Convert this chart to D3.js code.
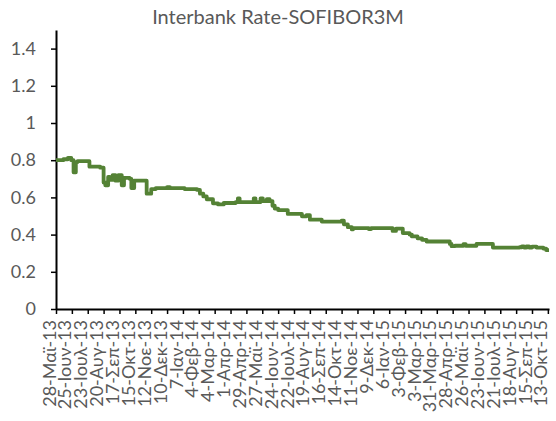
<!DOCTYPE html>
<html>
<head>
<meta charset="utf-8">
<script src="https://d3js.org/d3.v7.min.js"></script>
<style>
  body { margin: 0; background: #fff; }
  svg text { font-family: Lato, "Open Sans", sans-serif; fill: #595959; }
</style>
</head>
<body>
<div id="chart"></div>
<script>
// change points of the SOFIBOR 3M fixing (step line)
const rateDates = [
  "2013-05-28","2013-06-10","2013-06-18","2013-06-24","2013-06-28","2013-07-02","2013-07-05",
  "2013-07-26","2013-08-14","2013-08-20","2013-08-23","2013-08-28","2013-08-31","2013-09-05",
  "2013-09-10","2013-09-15","2013-09-21","2013-09-25","2013-10-05","2013-10-08","2013-10-13",
  "2013-10-20","2013-11-04","2013-11-12","2013-11-20","2013-12-10","2013-12-15","2014-01-10",
  "2014-02-01","2014-02-06","2014-02-12","2014-02-18","2014-03-01","2014-03-10","2014-03-20",
  "2014-04-10","2014-04-14","2014-04-17","2014-05-08","2014-05-12","2014-05-15","2014-05-24",
  "2014-05-28","2014-06-04","2014-06-09","2014-06-14","2014-06-18","2014-06-24","2014-07-11",
  "2014-08-05","2014-08-13","2014-08-19","2014-09-09","2014-10-14","2014-10-18","2014-10-25",
  "2014-11-01","2014-11-03","2014-12-01","2014-12-05","2015-01-12","2015-01-18","2015-01-30",
  "2015-02-11","2015-02-15","2015-02-25","2015-03-05","2015-03-13","2015-04-23","2015-04-26",
  "2015-05-02","2015-05-17","2015-05-21","2015-06-09","2015-07-08","2015-08-24","2015-08-28",
  "2015-09-01","2015-09-05","2015-09-10","2015-09-15","2015-09-23","2015-10-05","2015-10-10",
  "2015-10-15"
];
const rateValues = [
  0.800,0.805,0.812,0.800,0.735,0.790,0.795,
  0.765,0.760,0.680,0.665,0.710,0.695,0.720,
  0.690,0.720,0.665,0.705,0.700,0.650,0.690,
  0.690,0.620,0.645,0.650,0.655,0.650,0.645,
  0.640,0.620,0.605,0.590,0.568,0.562,0.570,
  0.575,0.595,0.575,0.575,0.595,0.575,0.595,
  0.580,0.590,0.580,0.555,0.540,0.532,0.511,
  0.498,0.505,0.480,0.470,0.475,0.455,0.440,
  0.428,0.435,0.430,0.435,0.420,0.432,0.408,
  0.400,0.390,0.380,0.372,0.363,0.350,0.338,
  0.340,0.348,0.340,0.350,0.330,0.332,0.337,
  0.330,0.337,0.330,0.335,0.330,0.325,0.317,
  0.317
];

const tickLabels = [
  "28-Μαϊ-13","25-Ιουν-13","23-Ιουλ-13","20-Αυγ-13","17-Σεπ-13","15-Οκτ-13","12-Νοε-13",
  "10-Δεκ-13","7-Ιαν-14","4-Φεβ-14","4-Μαρ-14","1-Απρ-14","29-Απρ-14","27-Μαϊ-14",
  "24-Ιουν-14","22-Ιουλ-14","19-Αυγ-14","16-Σεπ-14","14-Οκτ-14","11-Νοε-14","9-Δεκ-14",
  "6-Ιαν-15","3-Φεβ-15","3-Μαρ-15","31-Μαρ-15","28-Απρ-15","26-Μαϊ-15","23-Ιουν-15",
  "21-Ιουλ-15","18-Αυγ-15","15-Σεπ-15","13-Οκτ-15"
];
const yTicks = [0, 0.2, 0.4, 0.6, 0.8, 1, 1.2, 1.4];

const w = 556, h = 421;
const margin = {left: 56, right: 7, top: 30, bottom: 112};

const parse = d3.timeParse("%Y-%m-%d");
const data = rateDates.map((d, i) => ({date: parse(d), value: rateValues[i]}));
const start = parse("2013-05-28");
const tickDates = tickLabels.map((t, i) => d3.timeDay.offset(start, 28 * i));

const svg = d3.select("#chart").append("svg")
  .attr("width", w)
  .attr("height", h);

const x = d3.scaleTime()
  .domain([start, parse("2015-10-15")])
  .range([margin.left, w - margin.right]);
const y = d3.scaleLinear()
  .domain([0, 1.5])
  .range([h - margin.bottom, margin.top]);

svg.append("text")
  .attr("x", 278)
  .attr("y", 24)
  .attr("text-anchor", "middle")
  .style("font-size", "20px")
  .text("Interbank Rate-SOFIBOR3M");

// y axis
const yAxis = svg.append("g")
  .attr("transform", "translate(" + margin.left + ",0)")
  .call(d3.axisLeft(y).tickValues(yTicks).tickSize(5).tickSizeOuter(0).tickPadding(15)
    .tickFormat(d3.format("")));
yAxis.select(".domain").attr("stroke", "#000").attr("stroke-width", 2);
yAxis.selectAll(".tick line").attr("stroke", "#000").attr("stroke-width", 1.5);
yAxis.selectAll("text").style("font-size", "18px").attr("fill", "#595959");

// x axis
const xAxis = svg.append("g")
  .attr("transform", "translate(0," + (h - margin.bottom) + ")")
  .call(d3.axisBottom(x).tickValues(tickDates).tickSize(5).tickSizeOuter(0)
    .tickFormat((d, i) => tickLabels[i]));
xAxis.select(".domain").attr("stroke", "#000").attr("stroke-width", 2);
xAxis.selectAll(".tick line").attr("stroke", "#000").attr("stroke-width", 1.5);
xAxis.selectAll("text")
  .style("font-size", "18px")
  .attr("fill", "#595959")
  .attr("transform", "rotate(-90)")
  .attr("text-anchor", "end")
  .attr("x", -11)
  .attr("y", 0)
  .attr("dy", "-0.05em");

const line = d3.line()
  .x(d => x(d.date))
  .y(d => y(d.value))
  .curve(d3.curveStepAfter);

svg.append("path")
  .datum(data)
  .attr("fill", "none")
  .attr("stroke", "#548235")
  .attr("stroke-width", 3.8)
  .attr("stroke-linejoin", "round")
  .attr("d", line);
</script>
</body>
</html>
